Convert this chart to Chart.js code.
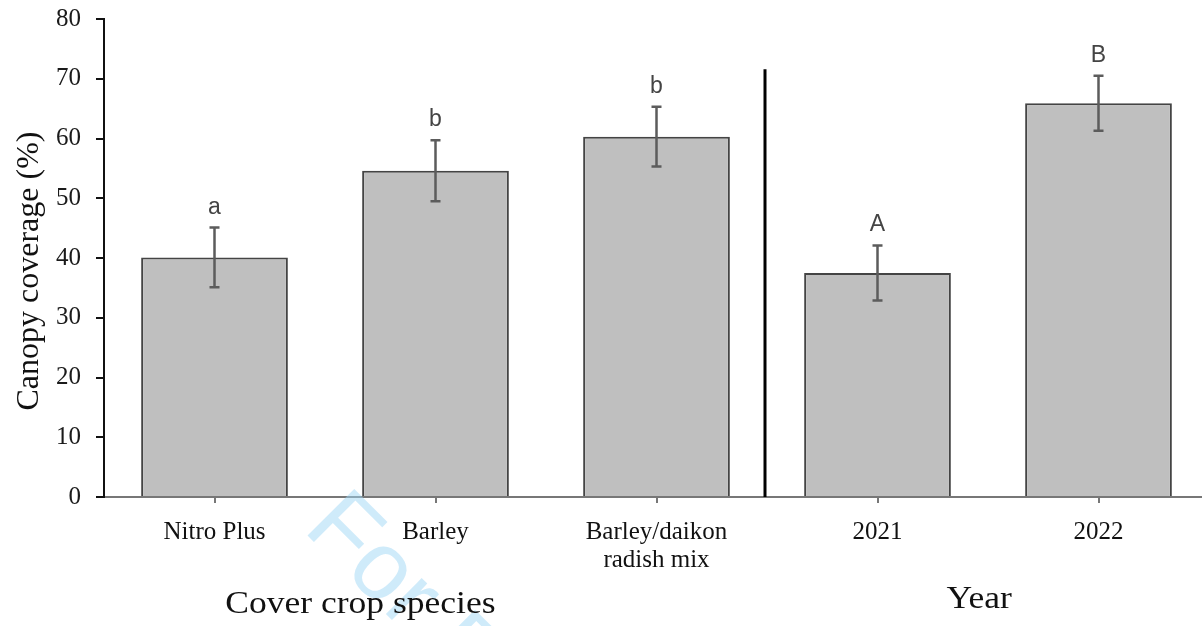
<!DOCTYPE html>
<html>
<head>
<meta charset="utf-8">
<script src="https://cdn.jsdelivr.net/npm/chart.js@4/dist/chart.umd.min.js"></script>
<style>
  html,body{margin:0;padding:0;background:#fff;overflow:hidden;}
  #wrap{width:1212px;height:626px;position:relative;}
</style>
</head>
<body>
<div id="wrap"><canvas id="chart"></canvas></div>
<script>
/* data */
const categories = ['Nitro Plus', 'Barley', ['Barley/daikon', 'radish mix'], '2021', '2022'];
const coverage = [40.1, 54.6, 60.3, 37.5, 65.9];
const stdErr = [5.0, 5.1, 5.0, 4.6, 4.6];
const letters = ['a', 'b', 'b', 'A', 'B'];
const yTicks = [0, 10, 20, 30, 40, 50, 60, 70, 80];

const serif = '"Liberation Serif", "Times New Roman", serif';
const sans = '"Liberation Sans", Arial, sans-serif';

// text stretched a bit sideways, like the original figure
function wideText(ctx, txt, x, y, sx){
  ctx.save();
  ctx.translate(x, y);
  ctx.scale(sx, 1);
  ctx.fillText(txt, 0, 0);
  ctx.restore();
}

/* watermark, error bars, letters, divider, group titles */
const extras = {
  id: 'extras',
  beforeDatasetsDraw(chart){
    const ctx = chart.ctx;
    ctx.save();
    ctx.translate(302, 530);
    ctx.rotate(Math.PI / 4);
    ctx.fillStyle = 'rgba(160,215,245,0.5)';
    ctx.font = '96px ' + sans;
    ctx.textBaseline = 'alphabetic';
    ctx.fillText('For Peer Review', 0, 0);
    ctx.restore();
  },
  afterDatasetsDraw(chart){
    const ctx = chart.ctx;
    const x = chart.scales.x, y = chart.scales.y;
    ctx.save();
    // error bars
    ctx.strokeStyle = '#5c5c5c';
    ctx.lineWidth = 2.5;
    coverage.forEach((v, i) => {
      const px = x.getPixelForValue(i);
      const top = y.getPixelForValue(v + stdErr[i]);
      const bot = y.getPixelForValue(v - stdErr[i]);
      ctx.beginPath();
      ctx.moveTo(px, top); ctx.lineTo(px, bot);
      ctx.moveTo(px - 5, top); ctx.lineTo(px + 5, top);
      ctx.moveTo(px - 5, bot); ctx.lineTo(px + 5, bot);
      ctx.stroke();
      // significance letters
      ctx.fillStyle = '#444';
      ctx.font = '23px ' + sans;
      ctx.textAlign = 'center';
      ctx.textBaseline = 'alphabetic';
      ctx.fillText(letters[i], px, top - 14);
    });
    // divider between species and year
    const dx = (x.getPixelForValue(2) + x.getPixelForValue(3)) / 2 - 2;
    ctx.strokeStyle = '#000';
    ctx.lineWidth = 3;
    ctx.beginPath();
    ctx.moveTo(dx, y.getPixelForValue(71.6));
    ctx.lineTo(dx, y.getPixelForValue(0));
    ctx.stroke();
    // axis titles
    ctx.fillStyle = '#111';
    ctx.font = '32px ' + serif;
    ctx.textAlign = 'center';
    ctx.textBaseline = 'middle';
    wideText(ctx, 'Cover crop species', x.getPixelForValue(0.66), 605, 1.11);
    wideText(ctx, 'Year', x.getPixelForValue(3.46), 600, 1.11);
    ctx.translate(30, (y.top + y.bottom) / 2 + 13);
    ctx.rotate(-Math.PI / 2);
    ctx.fillText('Canopy coverage (%)', 0, 0);
    ctx.restore();
  }
};

new Chart(document.getElementById('chart'), {
  type: 'bar',
  data: {
    labels: categories,
    datasets: [{
      data: coverage,
      backgroundColor: '#bfbfbf',
      borderColor: '#444',
      borderWidth: 2,
      categoryPercentage: 0.8,
      barPercentage: 0.83
    }]
  },
  options: {
    responsive: true,
    maintainAspectRatio: false,
    animation: false,
    layout: { padding: { top: 19, right: 3, left: 0, bottom: 0 } },
    plugins: { legend: { display: false }, tooltip: { enabled: false } },
    scales: {
      x: {
        grid: { display: true, offset: false, drawOnChartArea: false, tickLength: 6, tickColor: '#777', lineWidth: 2 },
        border: { display: true, color: '#777', width: 2 },
        ticks: { color: '#111', font: { family: serif, size: 25, lineHeight: 1.12 }, padding: 15, maxRotation: 0, autoSkip: false },
        afterFit(s){ s.height = 129; s.paddingLeft = 0; s.paddingRight = 0; }
      },
      y: {
        min: 0, max: 80,
        afterBuildTicks(s){ s.ticks = yTicks.map(v => ({ value: v })); },
        grid: { display: true, drawOnChartArea: false, tickLength: 8, tickColor: '#111', lineWidth: 2 },
        border: { display: true, color: '#111', width: 2 },
        ticks: { color: '#1a1a1a', font: { family: serif, size: 25 }, padding: 15 },
        afterFit(s){ s.width = 104; s.paddingTop = 0; s.paddingBottom = 0; }
      }
    }
  },
  plugins: [extras]
});
</script>
</body>
</html>
